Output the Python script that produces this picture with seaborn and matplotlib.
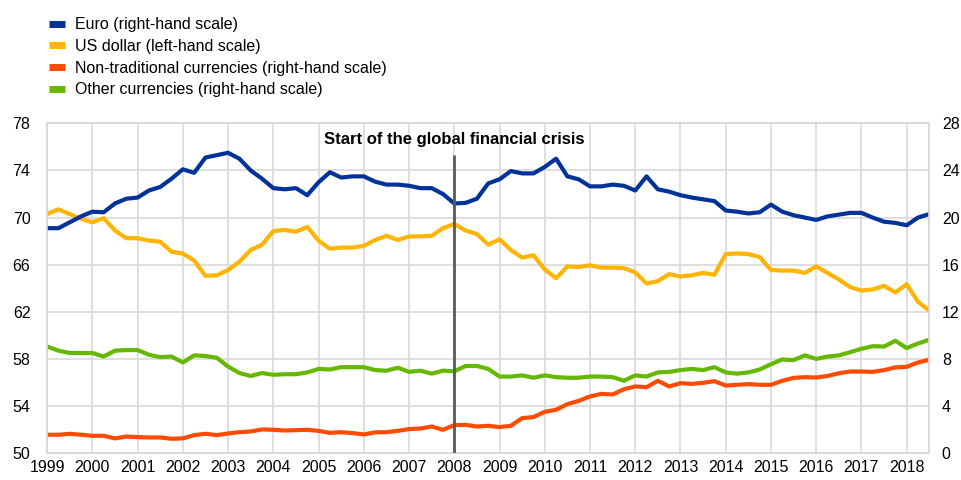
import matplotlib
matplotlib.use("Agg")
import matplotlib.pyplot as plt
from matplotlib.lines import Line2D
import numpy as np
import pandas as pd
import seaborn as sns

# quarterly observations, 1999 Q1 - 2018 Q3
start_year = 1999
n_quarters = 79
year_ticks = list(range(1999, 2019))

# US dollar share (left-hand scale)
usd = [70.3, 70.7, 70.3, 69.9, 69.6, 69.95, 68.9, 68.25, 68.25, 68.05,
       67.95, 67.1, 66.95, 66.35, 65.05, 65.1, 65.55, 66.25, 67.25, 67.7,
       68.85, 68.95, 68.8, 69.2, 68.05, 67.35, 67.45, 67.45, 67.6, 68.1,
       68.45, 68.1, 68.4, 68.4, 68.45, 69.1, 69.45, 68.9, 68.6, 67.7,
       68.15, 67.25, 66.6, 66.8, 65.6, 64.85, 65.85, 65.8, 65.95, 65.75,
       65.75, 65.7, 65.35, 64.4, 64.6, 65.2, 65.0, 65.1, 65.3, 65.15,
       66.9, 66.95, 66.9, 66.65, 65.55, 65.5, 65.5, 65.3, 65.85, 65.3,
       64.75, 64.1, 63.8, 63.9, 64.2, 63.65, 64.35, 62.85, 62.1]

# euro share (right-hand scale)
euro = [19.1, 19.1, 19.6, 20.1, 20.5, 20.45, 21.2, 21.6, 21.7, 22.3,
        22.6, 23.3, 24.1, 23.8, 25.1, 25.3, 25.5, 25.0, 24.0, 23.3,
        22.5, 22.4, 22.5, 21.9, 23.0, 23.85, 23.4, 23.5, 23.5, 23.05,
        22.8, 22.8, 22.7, 22.5, 22.5, 22.0, 21.2, 21.25, 21.6, 22.9,
        23.25, 23.95, 23.75, 23.75, 24.3, 25.0, 23.5, 23.25, 22.65, 22.65,
        22.8, 22.7, 22.3, 23.5, 22.4, 22.2, 21.9, 21.7, 21.55, 21.4,
        20.6, 20.5, 20.35, 20.45, 21.1, 20.5, 20.2, 20.0, 19.8, 20.1,
        20.25, 20.4, 20.4, 20.0, 19.65, 19.55, 19.35, 20.0, 20.3]

# non-traditional currencies (right-hand scale)
non_trad = [1.56, 1.56, 1.64, 1.56, 1.47, 1.47, 1.25, 1.41, 1.36, 1.33,
            1.33, 1.22, 1.25, 1.53, 1.64, 1.53, 1.67, 1.78, 1.84, 2.01,
            1.98, 1.92, 1.95, 1.98, 1.89, 1.72, 1.78, 1.7, 1.59, 1.76,
            1.78, 1.89, 2.04, 2.09, 2.26, 1.98, 2.38, 2.4, 2.26, 2.32,
            2.21, 2.32, 2.97, 3.06, 3.51, 3.68, 4.16, 4.44, 4.81, 5.03,
            4.98, 5.43, 5.66, 5.6, 6.14, 5.66, 5.94, 5.88, 5.97, 6.11,
            5.74, 5.8, 5.86, 5.8, 5.8, 6.14, 6.39, 6.45, 6.42, 6.55,
            6.78, 6.93, 6.93, 6.9, 7.05, 7.28, 7.33, 7.7, 7.93]

# other currencies (right-hand scale)
other = [9.05, 8.7, 8.5, 8.5, 8.5, 8.2, 8.7, 8.75, 8.75, 8.35,
         8.15, 8.2, 7.7, 8.3, 8.25, 8.1, 7.35, 6.8, 6.55, 6.8,
         6.65, 6.7, 6.7, 6.85, 7.15, 7.1, 7.3, 7.3, 7.3, 7.05,
         7.0, 7.25, 6.9, 7.0, 6.75, 7.0, 6.95, 7.4, 7.4, 7.15,
         6.5, 6.5, 6.6, 6.4, 6.6, 6.45, 6.4, 6.4, 6.5, 6.5,
         6.45, 6.15, 6.6, 6.5, 6.85, 6.9, 7.05, 7.15, 7.05, 7.3,
         6.85, 6.75, 6.85, 7.1, 7.55, 7.95, 7.9, 8.3, 8.0, 8.2,
         8.3, 8.57, 8.86, 9.08, 9.05, 9.54, 8.92, 9.31, 9.62]

crisis_year = 2008
crisis_label = "Start of the global financial crisis"

labels = ["Euro (right-hand scale)", "US dollar (left-hand scale)",
          "Non-traditional currencies (right-hand scale)",
          "Other currencies (right-hand scale)"]
colors = ["#003299", "#FFB400", "#FF4B00", "#65B800"]

df = pd.DataFrame({
    "t": start_year + 0.25 * np.arange(n_quarters),
    "usd": usd, "euro": euro, "non_trad": non_trad, "other": other,
})

sns.set_style("white")
plt.rcParams["font.family"] = ["Liberation Sans", "DejaVu Sans"]
plt.rcParams["font.size"] = 11.5
plt.rcParams["text.color"] = "#000000"

fig = plt.figure(figsize=(9.62, 4.8), dpi=100)
ax = fig.add_axes([0.049, 0.056, 0.917, 0.687])
ax2 = ax.twinx()

grid_col = "#d9d9d9"
lw = 3.0

# left-hand scale
sns.lineplot(data=df, x="t", y="usd", ax=ax, color=colors[1], lw=lw, zorder=3)
# right-hand scale
sns.lineplot(data=df, x="t", y="other", ax=ax2, color=colors[3], lw=lw)
sns.lineplot(data=df, x="t", y="non_trad", ax=ax2, color=colors[2], lw=lw)
sns.lineplot(data=df, x="t", y="euro", ax=ax2, color=colors[0], lw=lw)

ax.set_xlim(df["t"].iloc[0], df["t"].iloc[-1])
ax.set_ylim(50, 78)
ax2.set_ylim(0, 28)
ax.set_yticks(range(50, 79, 4))
ax2.set_yticks(range(0, 29, 4))
ax.set_xticks(year_ticks)
ax.set_xticklabels([str(y) for y in year_ticks])

ax.grid(True, color=grid_col, lw=1.2)
ax.set_axisbelow(True)
for a in (ax, ax2):
    a.set_xlabel("")
    a.set_ylabel("")
    for s in a.spines.values():
        s.set_color(grid_col)
        s.set_linewidth(1.2)
    a.tick_params(length=0, labelsize=11.5, colors="#000000")
ax.tick_params(axis="y", pad=12)
ax2.tick_params(axis="y", pad=9)
ax.tick_params(axis="x", pad=5)

# crisis marker
ax2.vlines(crisis_year, 0, 25.3, color="#595959", lw=2, zorder=5)
ax2.text(crisis_year, 26.6, crisis_label, ha="center", va="center",
         fontsize=12, fontweight="bold")

handles = [Line2D([], [], color=c, lw=5, solid_capstyle="butt") for c in colors]
fig.legend(handles, labels, loc="upper left", bbox_to_anchor=(0.036, 0.994),
           frameon=False, handlelength=1.0, handletextpad=0.65,
           labelspacing=0.42, fontsize=11.5)

fig.savefig("out.png", dpi=100)
